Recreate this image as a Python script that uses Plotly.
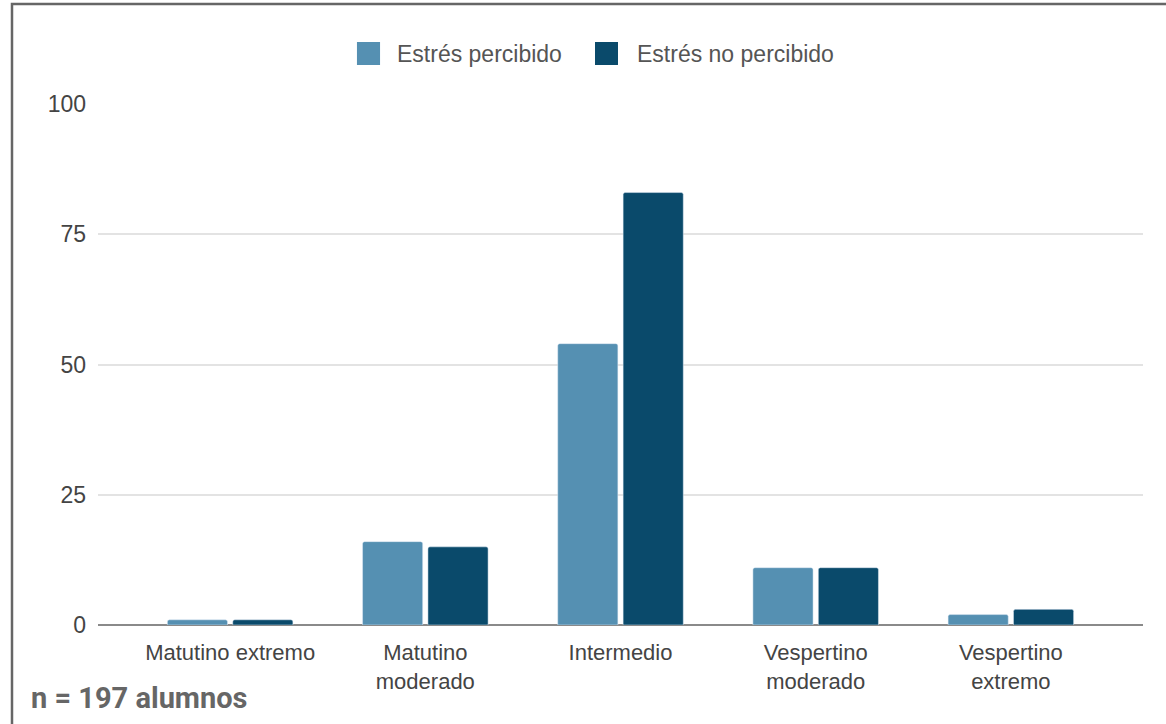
import plotly.graph_objects as go

categories = ["Matutino extremo", "Matutino<br>moderado", "Intermedio", "Vespertino<br>moderado", "Vespertino<br>extremo"]
series_names = ["Estrés percibido", "Estrés no percibido"]
percibido = [1, 16, 54, 11, 2]
no_percibido = [1, 15, 83, 11, 3]
y_ticks = [0, 25, 50, 75, 100]
colors = ["#5590b2", "#0a4a6b"]

fig = go.Figure()
fig.add_trace(go.Bar(x=categories, y=percibido, name=series_names[0], marker_color=colors[0], showlegend=False))
fig.add_trace(go.Bar(x=categories, y=no_percibido, name=series_names[1], marker_color=colors[1], showlegend=False))

fig.update_layout(
    width=1166, height=724,
    margin=dict(l=98, r=23, t=104, b=99),
    paper_bgcolor="white", plot_bgcolor="white",
    barmode="group", bargap=0.33, bargroupgap=0.08, barcornerradius=2,
    font=dict(family="Liberation Sans, Arial, sans-serif", size=22, color="#444"),
)
fig.update_xaxes(range=[-0.677, 4.677], showgrid=False, showline=False, ticks="",
                 ticklabelstandoff=12, tickfont=dict(size=22, color="#444"), zeroline=False)
fig.update_yaxes(range=[0, 100], tickvals=y_ticks, showgrid=True, gridcolor="#e3e3e3", gridwidth=2,
                 zeroline=True, zerolinecolor="#8a8a8a", zerolinewidth=2, ticks="",
                 ticklabelstandoff=11, tickfont=dict(size=23, color="#444"), showline=False)

# frame
fig.add_shape(type="rect", xref="paper", yref="paper", x0=-0.0823, x1=1.03, y0=-0.21, y1=1.192,
              line=dict(color="#666", width=2.5), fillcolor="rgba(0,0,0,0)", layer="above")

# manual legend
legend_sq = [(0.2478, 0.2699), (0.4756, 0.4976)]
legend_tx = [0.2842, 0.5139]
for name, col, (sx0, sx1), tx in zip(series_names, colors, legend_sq, legend_tx):
    fig.add_shape(type="rect", xref="paper", yref="paper", x0=sx0, x1=sx1, y0=1.0749, y1=1.119,
                  line=dict(width=0), fillcolor=col)
    fig.add_annotation(text=name, xref="paper", yref="paper", x=tx, y=1.096, xanchor="left",
                       yanchor="middle", showarrow=False, font=dict(size=23, color="#555"))

fig.add_annotation(text="<b>n = 197 alumnos</b>", xref="paper", yref="paper", x=-0.066, y=-0.140,
                   xanchor="left", yanchor="middle", showarrow=False,
                   font=dict(family="Roboto, sans-serif", size=29, color="#666"))

fig.write_html("out.html", config={"displayModeBar": False},
               post_script="document.body.style.margin='0';")
